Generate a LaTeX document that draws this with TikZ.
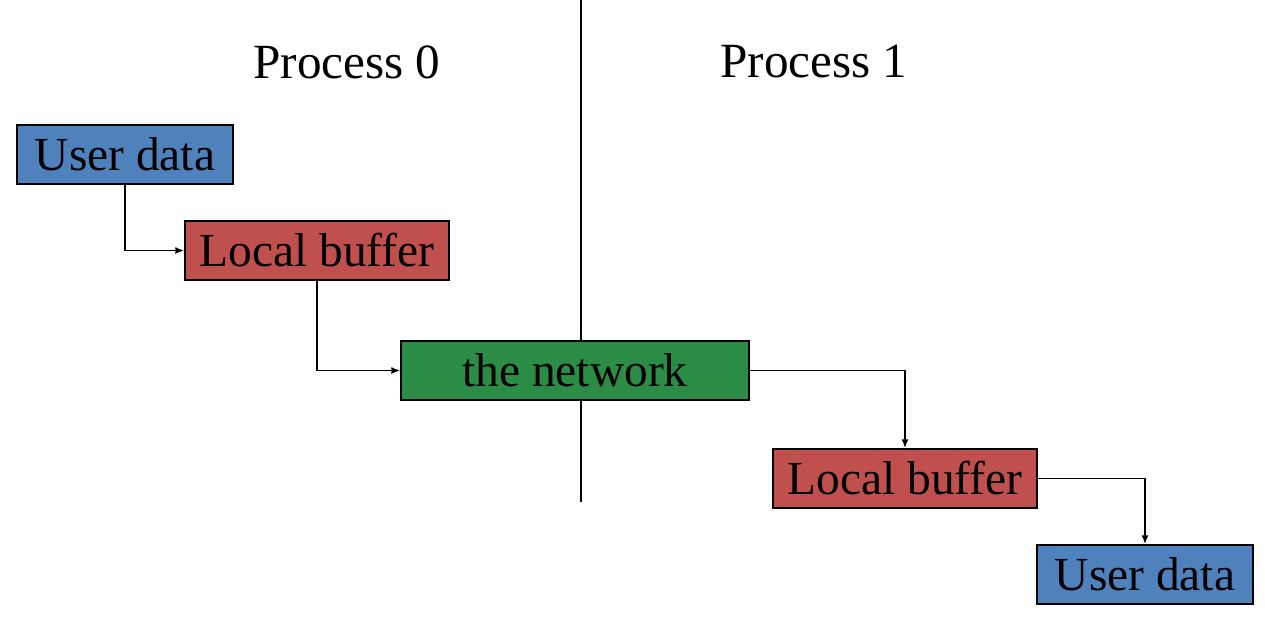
\documentclass[tikz,border=0pt]{standalone}
\usepackage{fontspec}
\setmainfont{Liberation Serif}
\usepackage{tikz}
\usetikzlibrary{arrows.meta}
\definecolor{userblue}{HTML}{4F81BD}
\definecolor{bufred}{HTML}{C0504D}
\definecolor{netgreen}{HTML}{2A8C45}
\tikzset{
  box/.style={draw=black,line width=1.1pt,inner sep=0pt,minimum height=1.18cm,
    font=\fontsize{27}{32}\selectfont},
  link/.style={line width=0.8pt,-{Latex[length=5pt,width=4pt]}}
}

\begin{document}
\begin{tikzpicture}[x=0.02cm,y=-0.02cm]
  \useasboundingbox (0,0) rectangle (1265,618);
  \draw[line width=1.1pt] (581,0) -- (581,502);
  \node[font=\fontsize{28}{32}\selectfont] (p0) at (347,62) {Process 0};
  \node[font=\fontsize{28}{32}\selectfont] (p1) at (814,62) {Process 1};
  \node[box,fill=userblue,minimum width=4.32cm] (ud0) at (125,154.5) {User data};
  \node[box,fill=bufred,minimum width=5.28cm] (lb0) at (317,250.5) {Local buffer};
  \node[box,fill=netgreen,minimum width=6.96cm] (net) at (575,370.5) {the network};
  \node[box,fill=bufred,minimum width=5.28cm] (lb1) at (905,478.5) {Local buffer};
  \node[box,fill=userblue,minimum width=4.32cm] (ud1) at (1145,574.5) {User data};
  \draw[link] (ud0.south) |- (lb0.west);
  \draw[link] (lb0.south) |- (net.west);
  \draw[link] (net.east) -| (lb1.north);
  \draw[link] (lb1.east) -| (ud1.north);
\end{tikzpicture}
\end{document}
